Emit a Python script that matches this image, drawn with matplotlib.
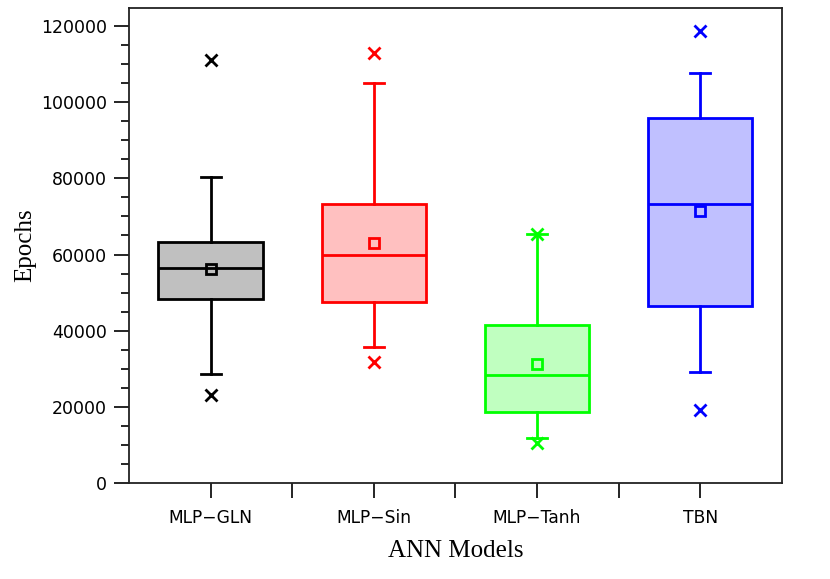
import matplotlib
matplotlib.use("Agg")
import matplotlib.pyplot as plt
from matplotlib.ticker import MultipleLocator

categories = ["MLP\u2212GLN", "MLP\u2212Sin", "MLP\u2212Tanh", "TBN"]
q1 = [48300, 47500, 18700, 46500]
median = [56400, 59900, 28400, 73200]
q3 = [63300, 73200, 41500, 95800]
whisker_low = [28600, 35700, 11700, 29200]
whisker_high = [80300, 105000, 65400, 107600]
means = [56200, 63000, 31300, 71400]
outliers_low = [23100, 31700, 10400, 19200]
outliers_high = [111000, 112900, 65400, 118600]

edge_colors = ["#000000", "#ff0000", "#00ff00", "#0000ff"]
fill_colors = ["#c0c0c0", "#ffc0c0", "#c0ffc0", "#c0c0ff"]

fig = plt.figure(figsize=(8.3, 5.79), dpi=100)
ax = fig.add_axes([0.1554, 0.1658, 0.942 - 0.1554, 0.986 - 0.1658])

for i in range(len(categories)):
    stats = [dict(med=median[i], q1=q1[i], q3=q3[i], whislo=whisker_low[i],
                  whishi=whisker_high[i], mean=means[i],
                  fliers=[outliers_low[i], outliers_high[i]], label=categories[i])]
    c = edge_colors[i]
    ax.bxp(stats, positions=[i + 1], widths=0.64, capwidths=0.122,
           patch_artist=True, showmeans=True, showfliers=True,
           boxprops=dict(facecolor=fill_colors[i], edgecolor=c, linewidth=2),
           medianprops=dict(color=c, linewidth=2),
           whiskerprops=dict(color=c, linewidth=2),
           capprops=dict(color=c, linewidth=2),
           meanprops=dict(marker='s', markerfacecolor='none', markeredgecolor=c,
                          markersize=7, markeredgewidth=2),
           flierprops=dict(marker='x', markeredgecolor=c, markersize=8,
                           markeredgewidth=2, linestyle='none'))

ax.set_xlim(0.5, 4.5)
ax.set_ylim(0, 124700)
ax.set_xticks([1, 2, 3, 4])
ax.set_xticklabels(categories)
ax.set_xticks([1.5, 2.5, 3.5], minor=True)
ax.yaxis.set_major_locator(MultipleLocator(20000))
ax.yaxis.set_minor_locator(MultipleLocator(5000))
ax.tick_params(axis='x', which='both', length=11, width=1.2, direction='out',
               labelsize=12.3, pad=8)
ax.tick_params(axis='y', which='major', length=11, width=1.2, direction='out',
               labelsize=12.5, pad=5)
ax.tick_params(axis='y', which='minor', length=6, width=1.2, direction='out')
for s in ax.spines.values():
    s.set_linewidth(1.3)
    s.set_color('#222222')

ax.set_xlabel("ANN Models", family="Liberation Serif", fontsize=18, labelpad=9)
ax.set_ylabel("Epochs", family="Liberation Serif", fontsize=18, labelpad=3)

fig.savefig("out.png", dpi=100)
